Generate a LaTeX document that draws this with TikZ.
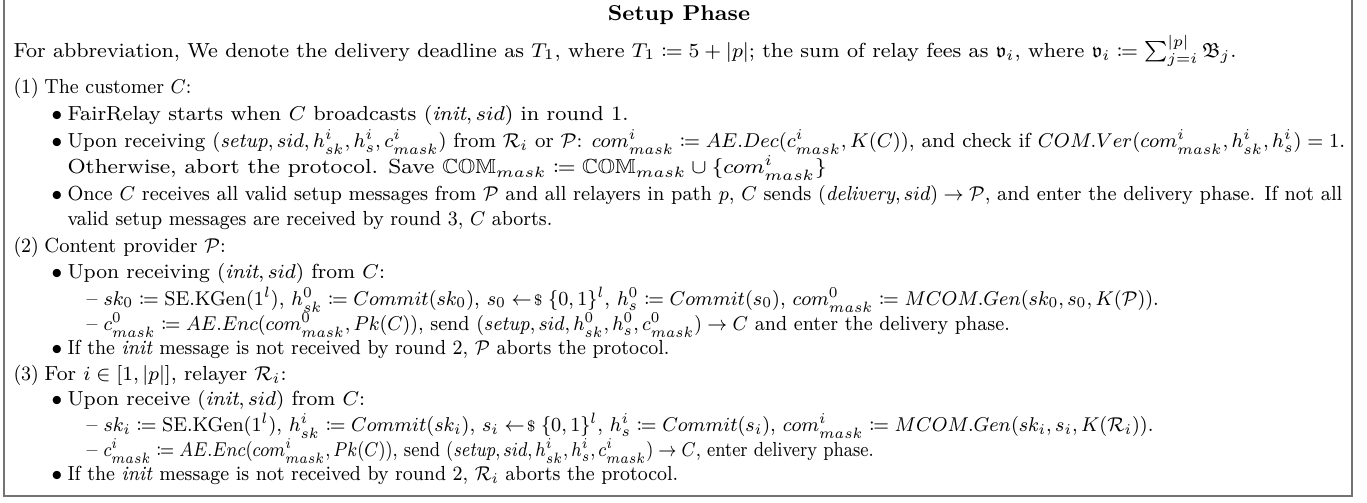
\documentclass[tikz,border=0pt]{standalone}
\usepackage{amssymb,mathtools}
\usetikzlibrary{positioning}
\tikzset{txt/.style={anchor=base west, inner sep=0pt, font=\fontsize{8.15}{10}\selectfont},
         ttl/.style={anchor=base, inner sep=0pt, font=\fontsize{8.6}{10}\selectfont\bfseries},
         bul/.style={txt, anchor=base},
         frame/.style={draw=black!55, line width=0.5pt}}
\newcommand{\samp}{\mathrel{\leftarrow\hspace{-1.5pt}{\scriptstyle\$}}}
\newcommand{\msk}{mask}
% horizontal fit of one line
\newcommand{\sx}[2]{\scalebox{#1}[1]{#2}}

\begin{document}
\begin{tikzpicture}[x=0.4pt, y=-0.4pt]
    \useasboundingbox (0,0) rectangle (1367,502);
    \draw[frame] (4,-10) rectangle (1352,496);
    \node[ttl] (title) at (679,20) {\sx{1.03}{Setup Phase}};
    \node[txt] (abbr) at (13,57) {\sx{1.02}{For abbreviation, We denote the delivery deadline as $T_1$, where $T_1 \coloneqq 5 + |p|$; the sum of relay fees as $\mathfrak{v}_i$, where $\mathfrak{v}_i \coloneqq \sum_{j=i}^{|p|} \mathfrak{B}_j$.}};
    % customer
    \node[txt] (n1) at (13,93) {\sx{0.92}{(1)}};
    \node[txt] (cust) at (44,93) {\sx{0.92}{The customer $C$:}};
    \node[bul] (b11) at (57,120) {$\bullet$};
    \node[txt] (start) at (67,120) {\sx{1.03}{FairRelay starts when $C$ broadcasts $(\textit{init}, sid)$ in round 1.}};
    \node[bul] (b12) at (57,147) {$\bullet$};
    \node[txt] (recv) at (67,147) {\sx{0.967}{Upon receiving $(\textit{setup}, sid, h^i_{sk}, h^i_s, c^i_{\msk})$ from $\mathcal{R}_i$ or $\mathcal{P}$: $com^i_{\msk} \coloneqq AE.Dec(c^i_{\msk}, K(C))$, and check if $COM.Ver(com^i_{\msk}, h^i_{sk}, h^i_s) = 1$.}};
    \node[txt] (save) at (67,173) {\sx{1.08}{Otherwise, abort the protocol. Save $\mathbb{COM}_{\msk} \coloneqq \mathbb{COM}_{\msk} \cup \{com^i_{\msk}\}$}};
    \node[bul] (b13) at (57,200) {$\bullet$};
    \node[txt] (once) at (67,200) {\sx{0.941}{Once $C$ receives all valid setup messages from $\mathcal{P}$ and all relayers in path $p$, $C$ sends $(\textit{delivery}, sid) \rightarrow \mathcal{P}$, and enter the delivery phase. If not all}};
    \node[txt] (valid) at (67,225) {\sx{0.92}{valid setup messages are received by round 3, $C$ aborts.}};
    % provider
    \node[txt] (n2) at (13,252) {\sx{0.92}{(2)}};
    \node[txt] (prov) at (44,252) {\sx{0.95}{Content provider $\mathcal{P}$:}};
    \node[bul] (b21) at (57,278) {$\bullet$};
    \node[txt] (precv) at (67,278) {\sx{1.0}{Upon receiving $(\textit{init}, sid)$ from $C$:}};
    \node[txt] (d21) at (86,305) {--};
    \node[txt] (pgen) at (103,305) {\sx{0.95}{$sk_0 \coloneqq \mathrm{SE.KGen}(1^l)$, $h^0_{sk} \coloneqq Commit(sk_0)$, $s_0 \samp \{0,1\}^l$, $h^0_s \coloneqq Commit(s_0)$, $com^0_{\msk} \coloneqq MCOM.Gen(sk_0, s_0, K(\mathcal{P}))$.}};
    \node[txt] (d22) at (86,330) {--};
    \node[txt] (penc) at (103,330) {\sx{0.93}{$c^0_{\msk} \coloneqq AE.Enc(com^0_{\msk}, Pk(C))$, send $(\textit{setup}, sid, h^0_{sk}, h^0_s, c^0_{\msk}) \rightarrow C$ and enter the delivery phase.}};
    \node[bul] (b22) at (57,354) {$\bullet$};
    \node[txt] (pabort) at (67,354) {\sx{0.92}{If the \textit{init} message is not received by round 2, $\mathcal{P}$ aborts the protocol.}};
    % relayer
    \node[txt] (n3) at (13,380) {\sx{0.92}{(3)}};
    \node[txt] (rel) at (44,380) {\sx{1.0}{For $i \in [1, |p|]$, relayer $\mathcal{R}_i$:}};
    \node[bul] (b31) at (57,405) {$\bullet$};
    \node[txt] (rrecv) at (67,405) {\sx{1.0}{Upon receive $(\textit{init}, sid)$ from $C$:}};
    \node[txt] (d31) at (86,431) {--};
    \node[txt] (rgen) at (103,431) {\sx{0.95}{$sk_i \coloneqq \mathrm{SE.KGen}(1^l)$, $h^i_{sk} \coloneqq Commit(sk_i)$, $s_i \samp \{0,1\}^l$, $h^i_s \coloneqq Commit(s_i)$, $com^i_{\msk} \coloneqq MCOM.Gen(sk_i, s_i, K(\mathcal{R}_i))$.}};
    \node[txt] (d32) at (86,456) {--};
    \node[txt] (renc) at (103,456) {\sx{0.855}{$c^i_{\msk} \coloneqq AE.Enc(com^i_{\msk}, Pk(C))$, send $(\textit{setup}, sid, h^i_{sk}, h^i_s, c^i_{\msk}) \rightarrow C$, enter delivery phase.}};
    \node[bul] (b32) at (57,480) {$\bullet$};
    \node[txt] (rabort) at (67,480) {\sx{0.92}{If the \textit{init} message is not received by round 2, $\mathcal{R}_i$ aborts the protocol.}};
\end{tikzpicture}
\end{document}
